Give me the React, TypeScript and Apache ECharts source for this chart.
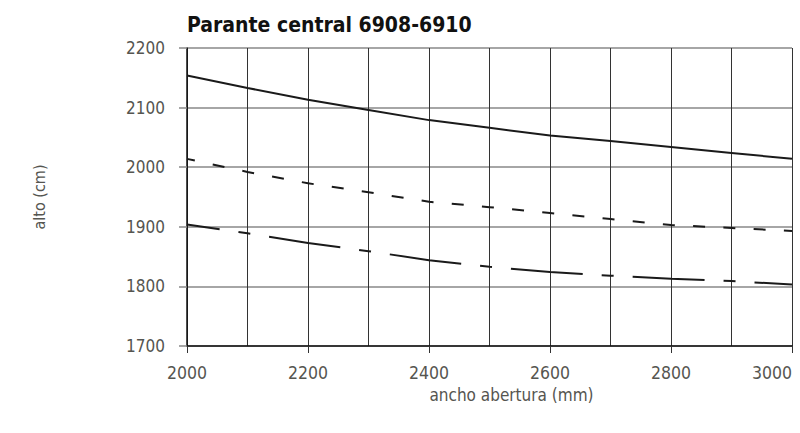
import React, { useEffect, useRef } from "react";
import * as echarts from "echarts";

const widths = [2000, 2100, 2200, 2300, 2400, 2500, 2600, 2700, 2800, 2900, 3000];
const solidValues = [2154, 2133, 2113, 2096, 2079, 2066, 2053, 2044, 2034, 2024, 2014];
const shortDashValues = [2014, 1992, 1973, 1958, 1942, 1933, 1923, 1913, 1903, 1898, 1893];
const longDashValues = [1904, 1889, 1873, 1859, 1844, 1833, 1824, 1818, 1813, 1809, 1803];

const titleText = "Parante central 6908-6910";
const xName = "ancho abertura (mm)";
const yName = "alto (cm)";

const FONT = "'Liberation Sans Narrow', 'DejaVu Sans Condensed', 'Roboto', sans-serif";

function pairs(vals: number[]) {
  return widths.map((w, i) => [w, vals[i]]);
}

export default function App() {
  const ref = useRef<HTMLDivElement>(null);
  useEffect(() => {
    if (!ref.current) return;
    const chart = echarts.init(ref.current, undefined, { renderer: "svg" });
    chart.setOption({
      animation: false,
      backgroundColor: "#ffffff",
      title: {
        text: titleText,
        left: 187,
        top: 14,
        padding: 0,
        textStyle: { fontFamily: FONT, fontWeight: "bold", fontSize: 21, color: "#111" },
      },
      grid: {
        left: 187,
        right: 8,
        top: 48,
        bottom: 87,
        containLabel: false,
        outerBoundsMode: "none",
      },
      xAxis: {
        type: "value",
        min: 2000,
        max: 3000,
        interval: 200,
        name: xName,
        nameLocation: "middle",
        nameGap: 40,
        nameMoveOverlap: false,
        nameTextStyle: {
          fontFamily: FONT,
          fontSize: 17,
          color: "#555550",
          padding: [0, 0, 0, 44],
        },
        axisLine: { show: true, lineStyle: { color: "#111", width: 1.5 } },
        axisTick: { show: true, length: 7, lineStyle: { color: "#333", width: 1 } },
        axisLabel: {
          fontFamily: FONT,
          fontSize: 17.5,
          color: "#555550",
          margin: 18,
          alignMaxLabel: "right",
          formatter: (v: number) => String(v),
        },
        splitLine: { show: true, lineStyle: { color: "#333", width: 1 } },
        minorTick: { show: false, splitNumber: 2 },
        minorSplitLine: { show: true, lineStyle: { color: "#333", width: 1 } },
      },
      yAxis: {
        type: "value",
        min: 1700,
        max: 2200,
        interval: 100,
        name: yName,
        nameLocation: "middle",
        nameGap: 140,
        nameMoveOverlap: false,
        nameTextStyle: { fontFamily: FONT, fontSize: 16, color: "#555550" },
        axisLine: { show: true, lineStyle: { color: "#111", width: 1.5 } },
        axisTick: { show: true, length: 8, lineStyle: { color: "#888", width: 1.5 } },
        axisLabel: {
          fontFamily: FONT,
          fontSize: 17,
          color: "#555550",
          margin: 22,
          formatter: (v: number) => String(v),
        },
        splitLine: { show: true, lineStyle: { color: "#888", width: 1.5 } },
      },
      series: [
        {
          type: "line",
          data: pairs(solidValues),
          symbol: "none",
          lineStyle: { color: "#1a1a1a", width: 2, type: "solid" },
        },
        {
          type: "line",
          data: pairs(shortDashValues),
          symbol: "none",
          lineStyle: { color: "#1a1a1a", width: 2, type: [12, 18.3], dashOffset: 4 },
        },
        {
          type: "line",
          data: pairs(longDashValues),
          symbol: "none",
          lineStyle: { color: "#1a1a1a", width: 2, type: [72, 19, 12, 19], dashOffset: 39 },
        },
      ],
    });
    return () => chart.dispose();
  }, []);
  return (
    <div
      ref={ref}
      style={{ position: "fixed", left: 0, top: 0, width: 800, height: 433 }}
    />
  );
}
